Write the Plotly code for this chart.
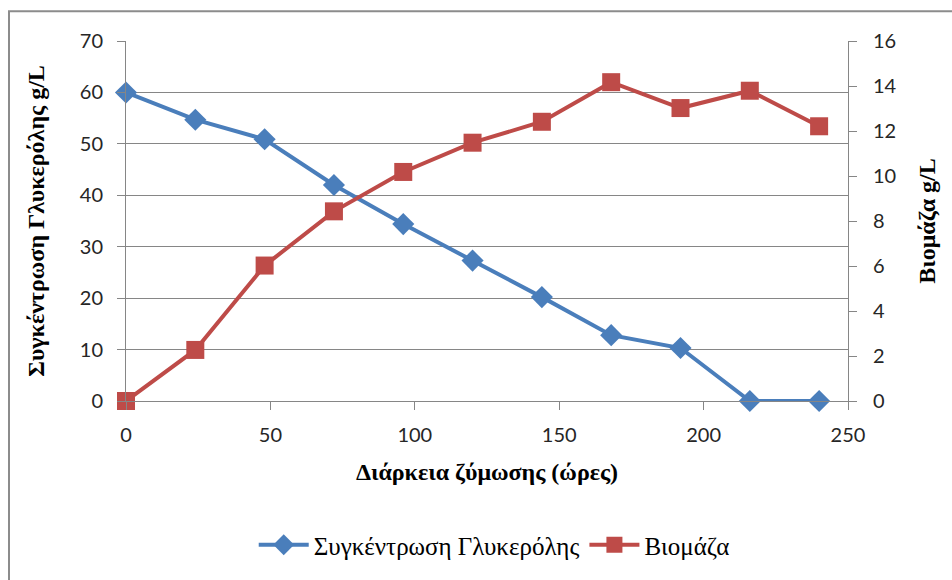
import plotly.graph_objects as go

hours = [0, 24, 48, 72, 96, 120, 144, 168, 192, 216, 240]
glycerol = [60, 54.7, 50.9, 42.0, 34.4, 27.3, 20.2, 12.8, 10.3, 0, 0]
biomass = [0, 2.27, 6.02, 8.43, 10.18, 11.48, 12.41, 14.17, 13.02, 13.79, 12.21]

name_gly = "Συγκέντρωση Γλυκερόλης"
name_bio = "Βιομάζα"
x_title = "Διάρκεια ζύμωσης (ώρες)"
y1_title = "Συγκέντρωση Γλυκερόλης g/L"
y2_title = "Βιομάζα g/L"

BLUE = "#4A7EBB"
RED = "#BE4B48"
GRID = "#868686"
SERIF = "Liberation Serif"

fig = go.Figure()
fig.add_trace(go.Scatter(
    x=hours, y=glycerol, name=name_gly, mode="lines+markers",
    line=dict(color=BLUE, width=4),
    marker=dict(symbol="diamond", size=17, color=BLUE),
    cliponaxis=False, yaxis="y"))
fig.add_trace(go.Scatter(
    x=hours, y=biomass, name=name_bio, mode="lines+markers",
    line=dict(color=RED, width=4),
    marker=dict(symbol="square", size=18, color=RED),
    cliponaxis=False, yaxis="y2"))

tick_font = dict(family="Lato", size=20, color="#262626")
title_font = dict(family=SERIF, size=24, color="#000000", weight="bold")

fig.update_layout(
    width=952, height=580,
    margin=dict(l=126, r=104, t=41, b=177),
    paper_bgcolor="white", plot_bgcolor="white",
    font=dict(family=SERIF, size=24, color="#000000"),
    showlegend=True,
    legend=dict(orientation="h", x=0.51, xanchor="center", y=-0.40, yanchor="middle",
                font=dict(family=SERIF, size=25, color="#000000"),
                itemwidth=50, traceorder="normal"),
    xaxis=dict(range=[0, 250], tickvals=[0, 50, 100, 150, 200, 250],
               showgrid=False, showline=True, linecolor=GRID, linewidth=1,
               ticks="outside", ticklen=8, tickcolor=GRID, tickfont=tick_font,
               ticklabelstandoff=8,
               title=dict(text=x_title, font=title_font, standoff=18),
               zeroline=False),
    yaxis=dict(range=[0, 70], tickvals=[0, 10, 20, 30, 40, 50, 60, 70],
               showgrid=True, gridcolor=GRID, gridwidth=1,
               showline=True, linecolor=GRID, linewidth=1,
               ticks="outside", ticklen=8, tickcolor=GRID, tickfont=tick_font,
               ticklabelstandoff=10,
               title=dict(text=y1_title, font=title_font, standoff=28),
               zeroline=False),
    yaxis2=dict(range=[0, 16], tickvals=[0, 2, 4, 6, 8, 10, 12, 14, 16],
                overlaying="y", side="right", showgrid=False,
                showline=True, linecolor=GRID, linewidth=1,
                ticks="outside", ticklen=8, tickcolor=GRID, tickfont=tick_font,
                ticklabelstandoff=12,
                title=dict(text=y2_title, font=title_font, standoff=22),
                zeroline=False),
    shapes=[dict(type="rect", xref="paper", yref="paper",
                 x0=(9 - 126) / 722, x1=(960 - 126) / 722,
                 y0=(403 - 590) / 362, y1=(403 - 11) / 362,
                 line=dict(color="#8C8C8C", width=2), layer="below")],
)

fig.write_html("out.html")
